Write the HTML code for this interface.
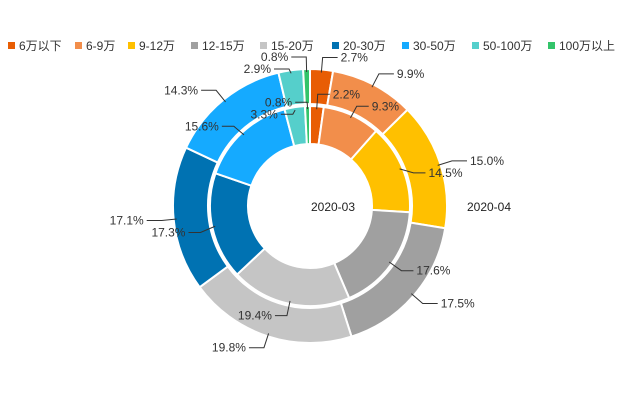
<!DOCTYPE html>
<html><head><meta charset="utf-8"><style>
body{margin:0;background:#fff;width:620px;height:413px;overflow:hidden;font-family:"Liberation Sans","Noto Sans CJK SC",sans-serif}
.lg{position:absolute;top:37px;font-size:12px;color:#333;white-space:nowrap}
.lg i{display:inline-block;width:7px;height:7px;margin-right:4px;vertical-align:1px}
</style></head><body>
<div id="legend"></div>
<svg id="chart" width="620" height="413" style="position:absolute;left:0;top:0;z-index:-1"></svg>
<script>
const categories=["6万以下","6-9万","9-12万","12-15万","15-20万","20-30万","30-50万","50-100万","100万以上"];
const series03=[2.2,9.3,14.5,17.6,19.4,17.3,15.6,3.3,0.8];
const series04=[2.7,9.9,15.0,17.5,19.8,17.1,14.3,2.9,0.8];
const seriesNames=["2020-03","2020-04"];
const colors=["#e85d04","#f28e4b","#ffc000","#a0a0a0","#c5c5c5","#0072b2","#15aaff","#55cfcb","#33c46a"];
const legX=[8,75,128,191,260,332,402,472,548];
const leg=document.getElementById('legend');
categories.forEach((c,i)=>{const d=document.createElement('div');d.className='lg';d.style.left=legX[i]+'px';


d.innerHTML='<i style="background:'+colors[i]+'"></i>'+c;leg.appendChild(d);});
const svg=document.getElementById('chart'),NS='http://www.w3.org/2000/svg';
const cx=310,cy=206;
function el(t,a){const e=document.createElementNS(NS,t);for(const k in a)e.setAttribute(k,a[k]);svg.appendChild(e);return e;}
function pt(r,a){return [cx+r*Math.sin(a),cy-r*Math.cos(a)];}
const labels=[];
function ring(vals,r0,r1,name,hl){
 const tot=vals.reduce((a,b)=>a+b,0);let a=0;
 vals.forEach((v,i)=>{const a0=a,a1=a+v/tot*2*Math.PI;a=a1;
  const L=(a1-a0)>Math.PI?1:0;const p1=pt(r1,a0),p2=pt(r1,a1),p3=pt(r0,a1),p4=pt(r0,a0);
  const p=el('path',{d:`M${p1}A${r1},${r1} 0 ${L} 1 ${p2}L${p3}A${r0},${r0} 0 ${L} 0 ${p4}Z`,fill:colors[i],stroke:'#fff','stroke-width':2});
  
  
  const m=(a0+a1)/2;
  labels.push({name:name,i:i,v:v,m:m,s:pt(r1-3,m),e:pt(r1+12,m),right:Math.sin(m)>=0,hl:hl});
 });
}
ring(series03,62,100,'inner',12);
ring(series04,102,137,'outer',15);
[true,false].forEach(side=>{
 const g=labels.filter(l=>l.right===side).sort((p,q)=>p.e[1]-q.e[1]);
 for(let k=1;k<g.length;k++){ if(g[k].e[1]-g[k-1].e[1]<12){ g[k].e=[g[k].e[0],g[k-1].e[1]+12]; } }
 for(let k=g.length-2;k>=0;k--){ if(g[k+1].e[1]-g[k].e[1]<12){ g[k].e=[g[k].e[0],g[k+1].e[1]-12]; } }
});
labels.forEach(l=>{
 const h=[l.e[0]+(l.right?l.hl:-l.hl),l.e[1]];
 const ln=el('polyline',{points:`${l.s} ${l.e} ${h}`,fill:'none',stroke:'#333','stroke-width':1});
 
 
 const t=el('text',{x:h[0]+(l.right?3:-3),y:h[1]+4,'text-anchor':l.right?'start':'end','font-size':12,fill:'#333'});
 t.textContent=l.v.toFixed(1)+'%';
 
 
});
const n1=el('text',{x:333,y:211,'text-anchor':'middle','font-size':12,fill:'#222'});n1.textContent=seriesNames[0];


const n2=el('text',{x:489,y:211,'text-anchor':'middle','font-size':12,fill:'#222'});n2.textContent=seriesNames[1];


</script>
</body></html>
